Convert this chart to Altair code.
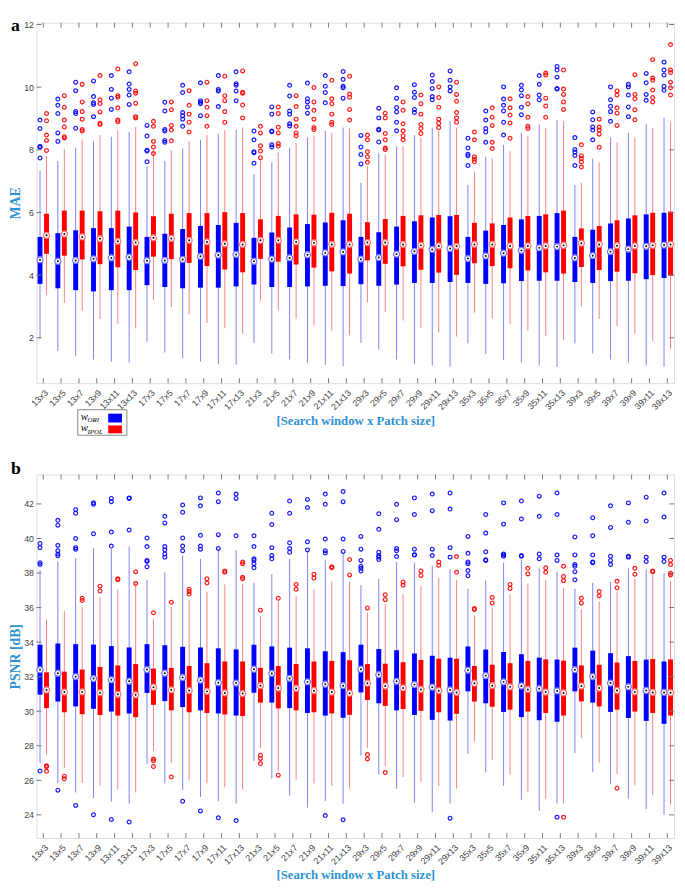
import altair as alt
import pandas as pd

CATS = ["13x3", "13x5", "13x7", "13x9", "13x11", "13x13",
        "17x3", "17x5", "17x7", "17x9", "17x11", "17x13",
        "21x3", "21x5", "21x7", "21x9", "21x11", "21x13",
        "29x3", "29x5", "29x7", "29x9", "29x11", "29x13",
        "35x3", "35x5", "35x7", "35x9", "35x11", "35x13",
        "39x3", "39x5", "39x7", "39x9", "39x11", "39x13"]

# ---------------- Panel a: MAE ----------------
A_ORI_HI = [7.34, 7.64, 8.06, 8.27, 8.42, 8.57, 7.47, 7.65, 8.04, 8.32, 8.52, 8.65,
            7.23, 7.60, 8.06, 8.40, 8.61, 8.71, 6.95, 7.91, 8.11, 8.47, 8.71, 8.91,
            6.88, 7.78, 8.16, 8.54, 8.81, 8.95, 6.88, 7.72, 8.40, 8.54, 8.82, 9.02]
A_ORI_Q3 = [5.22, 5.34, 5.43, 5.50, 5.50, 5.55, 5.22, 5.32, 5.47, 5.57, 5.60, 5.67,
            5.19, 5.36, 5.52, 5.63, 5.68, 5.75, 5.22, 5.37, 5.55, 5.72, 5.84, 5.88,
            5.22, 5.42, 5.60, 5.78, 5.89, 5.98, 5.22, 5.45, 5.65, 5.81, 5.94, 5.99]
A_ORI_MED = [4.49, 4.44, 4.47, 4.52, 4.55, 4.57, 4.46, 4.47, 4.50, 4.60, 4.64, 4.66,
             4.44, 4.51, 4.55, 4.65, 4.71, 4.74, 4.51, 4.56, 4.67, 4.76, 4.82, 4.85,
             4.53, 4.61, 4.70, 4.79, 4.87, 4.91, 4.55, 4.62, 4.75, 4.83, 4.92, 4.96]
A_ORI_Q1 = [3.72, 3.58, 3.52, 3.48, 3.52, 3.52, 3.68, 3.62, 3.58, 3.60, 3.60, 3.64,
            3.70, 3.62, 3.62, 3.64, 3.66, 3.65, 3.71, 3.66, 3.70, 3.75, 3.75, 3.78,
            3.75, 3.72, 3.74, 3.81, 3.82, 3.82, 3.78, 3.75, 3.81, 3.82, 3.87, 3.91]
A_ORI_LO = [1.97, 1.58, 1.42, 1.31, 1.23, 1.21, 1.86, 1.53, 1.35, 1.24, 1.16, 1.14,
            1.84, 1.50, 1.31, 1.20, 1.14, 1.09, 1.84, 1.63, 1.31, 1.17, 1.11, 1.08,
            1.82, 1.49, 1.29, 1.21, 1.12, 1.07, 1.82, 1.50, 1.31, 1.21, 1.12, 1.08]
A_ORI_OUT = [
    [8.95, 8.68, 8.11, 8.08, 7.74], [9.62, 9.42, 9.16, 8.54, 8.27], [10.16, 9.89, 9.22, 9.16, 8.69],
    [10.20, 9.70, 9.50, 9.45, 9.06], [10.37, 9.93, 9.65, 9.29], [10.49, 10.10, 9.93, 9.75, 9.45],
    [8.78, 8.44, 7.99, 7.96, 7.62], [9.52, 9.24, 8.65, 8.60, 8.30, 8.24], [10.06, 9.83, 9.19, 9.09, 8.98, 8.75],
    [10.14, 9.57, 9.52, 9.47, 9.09], [10.37, 9.93, 9.88, 9.38], [10.49, 10.11, 10.06, 9.88, 9.57],
    [8.60, 8.32, 7.94, 7.91, 7.57], [9.37, 9.14, 8.60, 8.58, 8.16, 8.09], [10.06, 9.72, 9.24, 9.14, 8.83, 8.76],
    [10.13, 9.63, 9.53, 9.37, 9.17], [10.37, 10.03, 9.83, 9.50], [10.50, 10.25, 10.03, 9.98, 9.65],
    [8.46, 8.09, 7.85, 7.55], [9.33, 9.02, 8.66, 8.63, 8.25], [9.98, 9.65, 9.35, 9.21, 8.88, 8.61],
    [10.08, 9.84, 9.67, 9.29, 9.19], [10.39, 10.18, 9.96, 9.70, 9.60], [10.52, 10.22, 10.01, 9.88],
    [8.37, 8.06, 7.86, 7.81, 7.50], [9.24, 8.95, 8.68, 8.57, 8.24], [10.01, 9.62, 9.42, 9.24, 8.88, 8.47],
    [10.06, 9.91, 9.73, 9.36, 9.12], [10.37, 10.09, 9.75, 9.60], [10.66, 10.55, 10.32, 9.96, 9.94],
    [8.39, 8.01, 7.93, 7.82, 7.50], [9.21, 8.96, 8.73, 8.63, 8.32], [10.01, 9.60, 9.39, 9.22, 8.91],
    [10.09, 10.01, 9.75, 9.37, 9.06], [10.44, 10.14, 9.77, 9.58], [10.80, 10.55, 10.39, 10.03, 9.90]]

A_POL_HI = [7.81, 8.03, 8.34, 8.47, 8.63, 8.73, 8.01, 7.98, 8.27, 8.47, 8.63, 8.71,
            7.67, 7.91, 8.22, 8.45, 8.55, 8.68, 7.48, 7.84, 8.13, 8.40, 8.61, 8.71,
            7.31, 7.72, 7.96, 8.44, 8.71, 8.91, 6.95, 7.60, 8.24, 8.39, 8.70, 8.90]
A_POL_Q3 = [5.96, 6.06, 6.06, 6.04, 6.06, 6.00, 5.88, 5.96, 5.98, 5.98, 6.01, 5.98,
            5.78, 5.89, 5.94, 5.93, 5.99, 5.96, 5.69, 5.79, 5.89, 5.91, 5.92, 5.92,
            5.67, 5.65, 5.84, 5.89, 5.94, 6.06, 5.49, 5.57, 5.75, 5.91, 5.99, 6.03]
A_POL_MED = [5.27, 5.31, 5.22, 5.16, 5.08, 5.04, 5.19, 5.17, 5.11, 5.06, 5.00, 4.98,
             5.11, 5.11, 5.06, 5.03, 4.98, 4.98, 5.04, 5.04, 4.98, 4.95, 4.93, 4.92,
             4.98, 4.98, 4.93, 4.93, 4.93, 4.95, 5.02, 4.98, 4.94, 4.93, 4.95, 4.98]
A_POL_Q1 = [4.68, 4.62, 4.50, 4.35, 4.25, 4.16, 4.59, 4.51, 4.39, 4.29, 4.18, 4.09,
            4.52, 4.43, 4.34, 4.24, 4.12, 4.05, 4.47, 4.36, 4.28, 4.17, 4.08, 4.01,
            4.38, 4.29, 4.22, 4.15, 4.09, 4.05, 4.26, 4.16, 4.11, 4.06, 4.00, 3.98]
A_POL_LO = [3.37, 3.11, 2.86, 2.60, 2.45, 2.30, 3.21, 2.98, 2.75, 2.47, 2.30, 2.13,
            3.16, 2.88, 2.61, 2.40, 2.22, 2.08, 3.13, 2.83, 2.55, 2.32, 2.17, 2.04,
            2.80, 2.63, 2.44, 2.22, 2.06, 1.93, 3.00, 2.60, 2.37, 2.12, 1.88, 1.65]
A_POL_OUT = [
    [9.16, 8.93, 8.47, 8.30, 7.98], [9.73, 9.36, 8.95, 8.73, 8.42, 8.38], [10.09, 9.53, 9.22, 8.98, 8.65, 8.60],
    [10.37, 9.60, 9.48, 9.21, 8.85, 8.81], [10.58, 9.73, 9.68, 9.34, 8.95, 8.90], [10.75, 9.88, 9.81, 9.49, 9.06, 9.02],
    [8.91, 8.75, 8.27, 8.09, 7.88], [9.53, 9.28, 8.78, 8.63, 8.29], [9.89, 9.42, 9.14, 8.88, 8.57],
    [10.16, 9.57, 9.36, 9.09, 8.75], [10.35, 9.73, 9.57, 9.22, 8.88], [10.52, 9.84, 9.81, 9.43, 9.02],
    [8.75, 8.54, 8.13, 7.96, 7.75], [9.37, 9.16, 8.72, 8.54, 8.20, 8.12], [9.73, 9.38, 8.98, 8.75, 8.54, 8.45],
    [9.99, 9.53, 9.26, 8.98, 8.71, 8.65], [10.22, 9.63, 9.47, 9.14, 8.88, 8.81], [10.35, 9.78, 9.68, 9.29, 8.95],
    [8.47, 8.32, 7.94, 7.78, 7.60], [9.17, 9.02, 8.52, 8.32, 8.06, 8.01], [9.53, 9.26, 8.83, 8.61, 8.45, 8.32],
    [9.75, 9.47, 9.14, 8.81, 8.68, 8.52], [10.01, 9.67, 9.36, 8.98, 8.85, 8.71], [10.16, 9.77, 9.55, 9.19, 9.02, 8.88],
    [8.57, 8.32, 7.78, 7.70, 7.62], [9.34, 9.04, 8.78, 8.24, 8.04], [9.63, 9.34, 9.11, 8.86, 8.37],
    [9.70, 9.47, 9.04, 8.75, 8.68], [10.45, 10.39, 9.65, 9.40, 9.04], [10.55, 9.94, 9.77, 9.53, 9.29],
    [8.16, 7.81, 7.72, 7.62, 7.45], [8.98, 8.73, 8.63, 8.50, 8.08], [9.88, 9.75, 9.34, 9.17, 8.78],
    [10.40, 9.77, 9.63, 9.28, 8.96], [10.88, 10.29, 10.22, 9.91, 9.67, 9.53], [11.36, 10.55, 10.47, 10.16, 9.98, 9.75]]

# ---------------- Panel b: PSNR ----------------
B_ORI_HI = [38.17, 38.67, 38.86, 39.44, 39.38, 39.53, 37.61, 38.04, 39.01, 38.82, 39.38, 39.34,
            37.43, 37.93, 38.82, 39.29, 38.73, 39.10, 37.30, 37.67, 38.64, 38.60, 38.41, 38.21,
            37.09, 37.56, 38.60, 38.78, 38.27, 38.08, 37.09, 37.43, 37.48, 38.27, 38.21, 37.99]
B_ORI_Q3 = [33.85, 33.92, 33.88, 33.86, 33.77, 33.69, 33.88, 33.82, 33.73, 33.69, 33.64, 33.58,
            33.85, 33.75, 33.68, 33.64, 33.47, 33.42, 33.85, 33.60, 33.53, 33.34, 33.21, 33.10,
            33.75, 33.57, 33.43, 33.30, 33.10, 32.99, 33.68, 33.51, 33.36, 33.19, 32.99, 32.88]
B_ORI_MED = [32.40, 32.20, 32.00, 31.89, 31.82, 31.73, 32.41, 32.20, 31.95, 31.80, 31.65, 31.63,
             32.43, 32.19, 31.90, 31.70, 31.56, 31.48, 32.43, 32.12, 31.73, 31.54, 31.39, 31.23,
             32.37, 32.06, 31.70, 31.46, 31.30, 31.17, 32.40, 32.00, 31.63, 31.41, 31.20, 31.09]
B_ORI_Q1 = [30.96, 30.56, 30.28, 30.14, 29.98, 29.87, 31.06, 30.59, 30.24, 30.05, 29.87, 29.75,
            31.07, 30.50, 30.18, 29.90, 29.75, 29.62, 31.09, 30.46, 30.05, 29.78, 29.50, 29.46,
            31.15, 30.46, 29.96, 29.66, 29.48, 29.39, 31.15, 30.50, 29.96, 29.61, 29.44, 29.27]
B_ORI_LO = [27.00, 25.82, 25.30, 24.98, 24.76, 24.65, 26.97, 25.82, 25.45, 25.04, 24.79, 24.66,
            27.12, 26.10, 25.11, 24.42, 24.79, 24.65, 27.43, 26.34, 25.51, 24.70, 24.15, 24.66,
            27.52, 26.45, 25.69, 24.85, 24.23, 24.66, 27.58, 26.47, 25.78, 24.94, 24.33, 24.00]
B_ORI_OUT = [
    [39.71, 39.47, 38.60, 38.49, 26.54], [41.05, 40.77, 39.60, 39.29, 39.10, 39.00, 25.43],
    [41.67, 41.46, 40.00, 39.47, 39.38, 24.55], [42.07, 41.98, 40.27, 24.01],
    [42.32, 42.13, 40.37, 39.56, 23.73], [42.35, 42.32, 40.49, 23.59],
    [40.03, 39.53, 38.73, 38.67, 38.36], [41.28, 40.90, 39.53, 39.34, 39.10, 38.92],
    [41.94, 41.52, 40.03, 39.56, 39.29, 24.79], [42.35, 41.89, 40.18, 39.56, 39.38, 24.23],
    [42.63, 42.13, 40.22, 39.42, 23.83], [42.57, 42.32, 40.16, 23.67],
    [40.16, 39.53, 38.82, 38.73, 38.54, 38.30], [41.46, 40.81, 39.47, 39.01, 38.82],
    [42.17, 41.46, 39.75, 39.42, 39.20], [42.26, 41.79, 39.81, 39.34],
    [42.57, 41.98, 39.97, 39.29, 39.16, 23.96], [42.72, 42.13, 39.97, 39.25, 23.72],
    [40.12, 39.38, 38.73, 38.39, 38.27, 38.12], [41.43, 40.53, 39.20, 39.01, 38.92, 38.78],
    [41.98, 41.09, 39.42, 39.29, 38.95], [42.35, 41.39, 39.38, 39.06, 39.05],
    [42.57, 41.61, 39.38, 39.01], [42.63, 41.70, 39.47, 38.92, 23.81],
    [40.12, 39.14, 38.64, 38.54, 38.14, 37.84], [41.39, 40.31, 39.23, 38.77, 38.73],
    [42.06, 40.83, 39.10, 39.05, 38.97], [42.17, 41.13, 39.01, 38.97],
    [42.45, 41.28, 39.10, 38.82], [42.63, 41.39, 39.05, 38.73, 23.87],
    [40.09, 39.05, 38.49, 38.39, 38.08, 37.61], [41.20, 40.16, 39.05, 38.64, 38.60],
    [41.89, 40.64, 38.97, 38.73, 38.49], [42.06, 40.94, 38.97, 38.92],
    [42.39, 41.01, 38.92, 38.67], [42.63, 41.24, 38.92, 38.67]]

B_POL_HI = [35.29, 35.81, 36.00, 36.59, 37.06, 37.43, 35.33, 36.04, 36.44, 36.91, 37.34, 37.37,
            35.52, 36.35, 36.65, 37.06, 37.52, 37.52, 35.70, 36.17, 36.78, 37.24, 37.71, 37.61,
            35.55, 36.00, 36.78, 37.39, 37.61, 37.11, 35.91, 36.35, 36.93, 37.67, 37.89, 37.52]
B_POL_Q3 = [32.25, 32.29, 32.41, 32.56, 32.65, 32.73, 32.47, 32.51, 32.62, 32.78, 32.88, 32.88,
            32.51, 32.62, 32.73, 32.88, 32.91, 32.95, 32.73, 32.75, 32.84, 32.97, 33.04, 33.04,
            32.62, 32.69, 32.78, 32.91, 33.00, 32.93, 32.65, 32.69, 32.82, 32.91, 33.02, 33.00]
B_POL_MED = [31.23, 31.11, 31.12, 31.07, 30.98, 30.95, 31.39, 31.24, 31.20, 31.15, 31.06, 31.02,
             31.48, 31.34, 31.32, 31.19, 31.11, 31.04, 31.62, 31.46, 31.35, 31.26, 31.19, 31.09,
             31.62, 31.48, 31.41, 31.26, 31.11, 31.06, 31.46, 31.34, 31.20, 31.12, 31.09, 31.07]
B_POL_Q1 = [30.18, 29.94, 29.83, 29.78, 29.75, 29.66, 30.37, 30.05, 29.94, 29.90, 29.81, 29.72,
            30.50, 30.16, 30.05, 29.94, 29.87, 29.79, 30.65, 30.31, 30.13, 30.02, 29.94, 29.85,
            30.56, 30.26, 30.09, 29.98, 29.90, 29.75, 30.57, 30.28, 30.09, 29.98, 29.90, 29.75]
B_POL_LO = [27.49, 26.71, 25.85, 25.69, 25.48, 25.30, 27.71, 27.02, 26.00, 25.82, 25.60, 25.48,
            27.86, 26.56, 26.04, 25.82, 25.67, 25.51, 27.86, 26.81, 26.19, 25.91, 25.67, 25.52,
            28.23, 27.16, 26.32, 25.34, 24.92, 24.66, 28.45, 27.02, 26.37, 25.72, 25.14, 24.60]
B_POL_OUT = [
    [26.84, 26.78, 26.52], [26.24, 26.09], [36.54, 36.41], [37.24, 36.96], [37.67, 37.61], [38.08, 37.39],
    [35.70, 27.23, 27.13, 26.80], [36.31, 26.19], [37.06, 36.93, 36.78], [37.67, 37.42], [38.12, 38.04],
    [38.64, 38.54, 37.75, 37.67],
    [35.85, 27.45, 27.27, 26.97], [36.54, 26.30], [37.34, 37.06], [37.93, 37.71], [38.36, 38.30], [38.78, 37.89],
    [35.98, 27.49, 27.24], [36.74, 36.46, 26.45], [37.48, 37.30], [38.12, 37.86], [38.64, 38.45], [38.95, 38.04],
    [35.94, 35.89], [36.59, 36.27], [37.34, 37.11], [38.27, 37.95], [38.30, 38.04], [38.39, 37.80, 37.56, 23.87],
    [36.54, 36.27], [36.93, 36.69], [37.52, 37.15, 25.54], [38.27, 37.93], [38.12, 38.08], [38.73, 38.49, 37.99, 37.89]]

A_TICKS = [2, 4, 6, 8, 10, 12]
B_TICKS = [24, 26, 28, 30, 32, 34, 36, 38, 40, 42]

BLUE = "#0000ff"
RED = "#ff0000"
TCOL = "#2d93d3"
W = 649
HA = 367
HB = 370


def box_df(lo, q1, med, q3, hi):
    return pd.DataFrame({"cat": CATS, "lo": lo, "q1": q1, "med": med, "q3": q3, "hi": hi})


def out_df(outs):
    rows = [{"cat": c, "v": v} for c, vals in zip(CATS, outs) for v in vals]
    return pd.DataFrame(rows)


def panel(ori, pol, o_ori, o_pol, dom, ticks, ytitle, H, letter, letter_y, legend):
    xscale = alt.Scale(type="point", padding=0.38)
    xaxis = alt.Axis(title="[Search window x Patch size]", labelAngle=-45, labelFontSize=9,
                     labelFont="Liberation Sans", labelColor="#444", ticks=False, domain=False,
                     grid=False, labelPadding=5, labelOverlap=False,
                     titleFont="Liberation Serif", titleFontWeight="bold", titleFontSize=13,
                     titleColor=TCOL, titlePadding=3)
    ys = alt.Scale(domain=dom, nice=False, zero=False)
    yaxis = alt.Axis(values=ticks, title=ytitle, labelFontSize=9, labelFont="Liberation Sans",
                     labelColor="#444", ticks=False, domain=False, grid=False, labelPadding=3,
                     titleFont="Liberation Serif", titleFontWeight="bold", titleFontSize=14,
                     titleColor=TCOL, titlePadding=1)

    def X():
        return alt.X("cat:N", sort=CATS, scale=xscale, axis=xaxis)

    def Y(f):
        return alt.Y(f, scale=ys, axis=yaxis)

    layers = []
    for bdf, odf, col, ring, off in [(ori, o_ori, BLUE, "#7a7aff", -3.3), (pol, o_pol, RED, "#ff7a7a", 3.3)]:
        base = alt.Chart(bdf)
        layers.append(base.mark_rule(color=col, strokeWidth=1, opacity=0.5, xOffset=off).encode(
            x=X(), y=Y("lo:Q"), y2="hi:Q"))
        layers.append(base.mark_rule(color=col, strokeWidth=5, xOffset=off).encode(
            x=X(), y=Y("q1:Q"), y2="q3:Q"))
        layers.append(alt.Chart(odf).mark_point(shape="circle", size=15, strokeWidth=1.2, color=col,
                                                filled=False, opacity=0.9, xOffset=off).encode(
            x=X(), y=Y("v:Q")))
        layers.append(base.mark_point(shape="circle", size=38, fill="white", stroke=ring,
                                      strokeWidth=1.3, fillOpacity=1, opacity=1, xOffset=off).encode(
            x=X(), y=Y("med:Q")))
        layers.append(base.mark_point(shape="circle", size=4, filled=True, color="black",
                                      opacity=1, xOffset=off).encode(
            x=X(), y=Y("med:Q")))
    tdf = pd.DataFrame({"cat": CATS})
    layers.append(alt.Chart(tdf).mark_rule(color="#777", strokeWidth=1).encode(
        x=X(), y=alt.value(0), y2=alt.value(5)))
    layers.append(alt.Chart(tdf).mark_rule(color="#777", strokeWidth=1).encode(
        x=X(), y=alt.value(H - 5), y2=alt.value(H)))
    ydf = pd.DataFrame({"v": ticks})
    layers.append(alt.Chart(ydf).mark_rule(color="#777", strokeWidth=1).encode(
        y=Y("v:Q"), x=alt.value(0), x2=alt.value(5)))
    layers.append(alt.Chart(ydf).mark_rule(color="#777", strokeWidth=1).encode(
        y=Y("v:Q"), x=alt.value(W - 5), x2=alt.value(W)))
    layers.append(alt.Chart(pd.DataFrame({"t": [letter]})).mark_text(
        font="Liberation Serif", fontWeight="bold", fontSize=18, align="left",
        baseline="alphabetic", color="black").encode(
        text="t:N", x=alt.value(-26), y=alt.value(letter_y)))
    if legend:
        one = pd.DataFrame({"k": [0]})
        layers.append(alt.Chart(one).mark_rect(fill="white", stroke="#888", strokeWidth=1).encode(
            x=alt.value(42), x2=alt.value(92), y=alt.value(H + 27), y2=alt.value(H + 53)))
        layers.append(alt.Chart(one).mark_rect(fill=BLUE).encode(
            x=alt.value(73), x2=alt.value(87), y=alt.value(H + 31), y2=alt.value(H + 40)))
        layers.append(alt.Chart(one).mark_rect(fill=RED).encode(
            x=alt.value(73), x2=alt.value(87), y=alt.value(H + 43), y2=alt.value(H + 51)))
        for i, sub in enumerate(["ORI", "IPOL"]):
            d = pd.DataFrame({"t": ["w"], "s": [sub]})
            layers.append(alt.Chart(d).mark_text(font="Liberation Serif", fontStyle="italic",
                                                 fontSize=11, align="left", baseline="alphabetic",
                                                 color="black").encode(
                text="t:N", x=alt.value(45), y=alt.value(H + 37 + 12 * i)))
            layers.append(alt.Chart(d).mark_text(font="Liberation Serif", fontStyle="italic",
                                                 fontSize=7, align="left", baseline="alphabetic",
                                                 color="black").encode(
                text="s:N", x=alt.value(52), y=alt.value(H + 40 + 12 * i)))
    return alt.layer(*layers).properties(width=W, height=H)


pa = panel(box_df(A_ORI_LO, A_ORI_Q1, A_ORI_MED, A_ORI_Q3, A_ORI_HI),
           box_df(A_POL_LO, A_POL_Q1, A_POL_MED, A_POL_Q3, A_POL_HI),
           out_df(A_ORI_OUT), out_df(A_POL_OUT), [0.55, 12.06], A_TICKS, "MAE", HA, "a", 8, True)
pb = panel(box_df(B_ORI_LO, B_ORI_Q1, B_ORI_MED, B_ORI_Q3, B_ORI_HI),
           box_df(B_POL_LO, B_POL_Q1, B_POL_MED, B_POL_Q3, B_POL_HI),
           out_df(B_ORI_OUT), out_df(B_POL_OUT), [22.66, 43.7], B_TICKS, "PSNR [dB]", HB, "b", -1, False)

chart = alt.vconcat(pa, pb, spacing=23).properties(
    padding={"left": 0, "top": 0, "right": 0, "bottom": 0}
).configure_view(stroke="#999", strokeWidth=1).configure(background="white")

chart.save("out.html", embed_options={"renderer": "svg", "actions": False})
